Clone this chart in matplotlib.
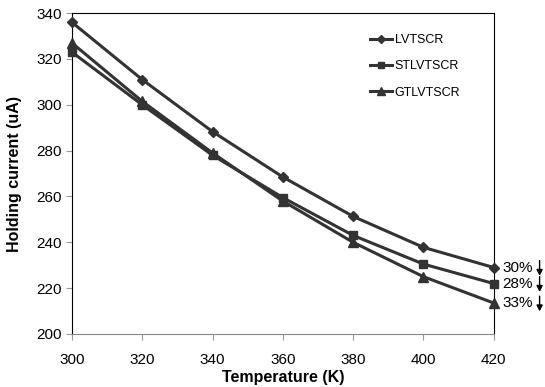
import matplotlib.pyplot as plt
from matplotlib.transforms import ScaledTranslation

plt.rcParams['font.family'] = ['Liberation Sans', 'DejaVu Sans']

temps = [300, 320, 340, 360, 380, 400, 420]
lvtscr = [336, 311, 288.3, 268.5, 251.3, 237.8, 229]
stlvtscr = [323, 300, 278, 259.5, 243, 230.5, 222]
gtlvtscr = [327, 301.5, 279, 258, 240, 225, 213.5]
labels = ['LVTSCR', 'STLVTSCR', 'GTLVTSCR']
drops = ['30%', '28%', '33%']

fig = plt.figure(figsize=(5.45, 3.87), dpi=100)
ax = fig.add_axes([0.132, 0.137, 0.774, 0.829])

c = '#333333'
series = [lvtscr, stlvtscr, gtlvtscr]
markers = ['D', 's', '^']
sizes = [5, 6, 7]
for vals, m, ms, lab in zip(series, markers, sizes, labels):
    ax.plot(temps, vals, color=c, lw=2.2, marker=m, ms=ms, label=lab,
            clip_on=False, zorder=3)

# percentage drop labels with down arrows
for vals, d in zip(series, drops):
    ax.annotate(d, xy=(temps[-1], vals[-1]), xytext=(6, 0),
                textcoords='offset points', va='center', ha='left',
                fontsize=11, annotation_clip=False)
    top = ax.transData + ScaledTranslation(33 / 72, 5 / 72, fig.dpi_scale_trans)
    bot = ax.transData + ScaledTranslation(33 / 72, -6 / 72, fig.dpi_scale_trans)
    ax.annotate('', xy=(temps[-1], vals[-1]), xycoords=bot,
                xytext=(temps[-1], vals[-1]), textcoords=top,
                arrowprops=dict(arrowstyle='-|>,head_length=0.35,head_width=0.18',
                                color='black', lw=1, shrinkA=0, shrinkB=0),
                annotation_clip=False)

ax.set_xlim(300, 420)
ax.set_ylim(200, 340)
ax.set_xticks(range(300, 421, 20))
ax.set_yticks(range(200, 341, 20))
ax.tick_params(direction='out', labelsize=11, length=4, color='#999999')
ax.tick_params(axis='x', pad=10)
ax.set_xlabel('Temperature (K)', fontsize=11.5, fontweight='bold', labelpad=2)
ax.set_ylabel('Holding current (uA)', fontsize=11.5, fontweight='bold', labelpad=10)
for s in ['left', 'right', 'top']:
    ax.spines[s].set_color('black')
ax.spines['bottom'].set_color('#888888')

leg = ax.legend(loc='upper left', bbox_to_anchor=(0.706, 0.935), frameon=False,
                fontsize=9, handlelength=1.8, handletextpad=0.2,
                labelspacing=1.15, borderpad=0, borderaxespad=0,
                markerscale=0.8)

fig.savefig('out.png', dpi=100)
